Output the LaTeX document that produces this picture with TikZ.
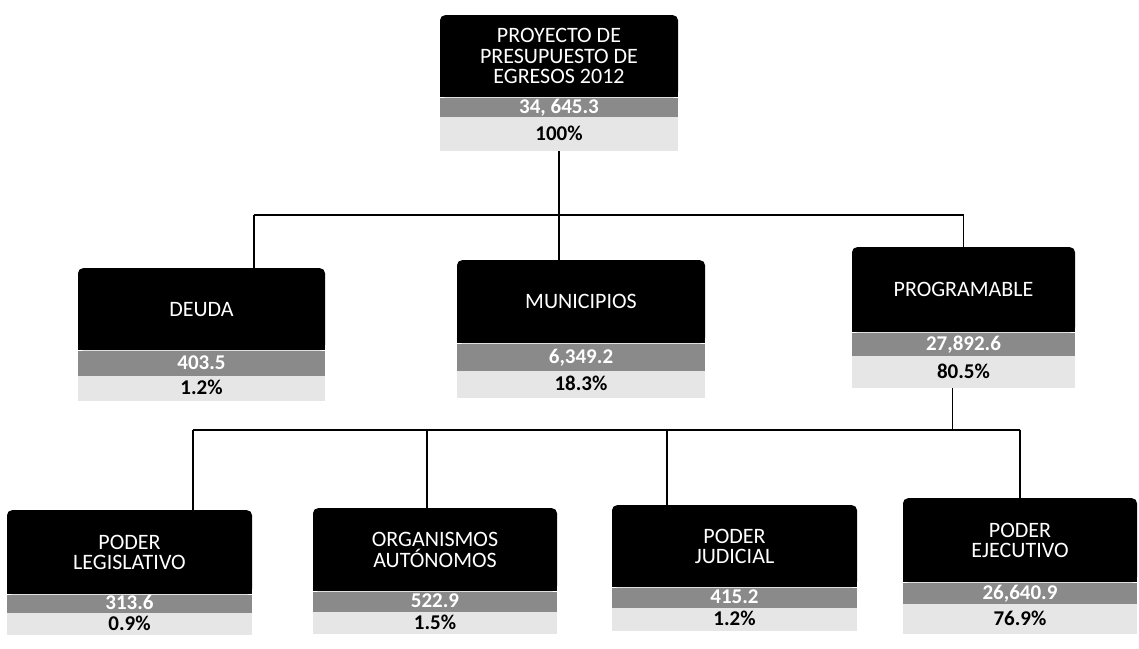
\documentclass[tikz,border=0pt]{standalone}
\usepackage{fontspec}
\setmainfont{Carlito}
\definecolor{bandgray}{HTML}{8A8A8A}
\definecolor{bandlight}{HTML}{E6E6E6}
\tikzset{
  titlebox/.style={fill=black, text=white, rounded corners=5pt, inner sep=0pt, align=center, anchor=north,
    font=\fontsize{22}{20.5}\selectfont},
  numband/.style={fill=bandgray, text=white, inner sep=0pt, anchor=north, text height=13.5pt, text depth=1.5pt,
    font=\bfseries\fontsize{21}{21}\selectfont},
  pctband/.style={fill=bandlight, text=black, inner sep=0pt, anchor=north, text height=13.5pt, text depth=1.5pt,
    font=\bfseries\fontsize{21}{21}\selectfont},
  link/.style={draw=black, line width=1.3pt},
}
\newcommand\squarebottom[1]{\fill[black] ([yshift=6pt]#1.south west) rectangle (#1.south east);}
\begin{document}
\begin{tikzpicture}[x=1pt, y=-1pt]
\useasboundingbox (0,0) rectangle (1139,648);
% top
\node[titlebox, minimum width=238pt, minimum height=82pt] (top) at (559,15) {PROYECTO DE\\PRESUPUESTO DE\\EGRESOS 2012};
\squarebottom{top}
\node[numband, minimum width=238pt, minimum height=19pt] (topN) at (top.south) {34, 645.3};
\node[pctband, minimum width=238pt, minimum height=34pt] (topP) at (topN.south) {100\%};
% deuda
\node[titlebox, minimum width=247pt, minimum height=82pt] (deuda) at (201.5,268) {DEUDA};
\squarebottom{deuda}
\node[numband, minimum width=247pt, minimum height=25pt] (deudaN) at (deuda.south) {403.5};
\node[pctband, minimum width=247pt, minimum height=25pt] (deudaP) at (deudaN.south) {1.2\%};
% municipios
\node[titlebox, minimum width=248pt, minimum height=83pt] (mun) at (581,260) {MUNICIPIOS};
\squarebottom{mun}
\node[numband, minimum width=248pt, minimum height=27pt] (munN) at (mun.south) {6,349.2};
\node[pctband, minimum width=248pt, minimum height=27pt] (munP) at (munN.south) {18.3\%};
% programable
\node[titlebox, minimum width=223pt, minimum height=85pt] (prog) at (963.5,247) {PROGRAMABLE};
\squarebottom{prog}
\node[numband, minimum width=223pt, minimum height=23pt] (progN) at (prog.south) {27,892.6};
\node[pctband, minimum width=223pt, minimum height=32pt] (progP) at (progN.south) {80.5\%};
% legislativo
\node[titlebox, minimum width=245pt, minimum height=84pt] (leg) at (129.5,510) {PODER\\LEGISLATIVO};
\squarebottom{leg}
\node[numband, minimum width=245pt, minimum height=18pt] (legN) at (leg.south) {313.6};
\node[pctband, minimum width=245pt, minimum height=22pt] (legP) at (legN.south) {0.9\%};
% organismos
\node[titlebox, minimum width=244pt, minimum height=83pt] (org) at (435,508) {ORGANISMOS\\AUTÓNOMOS};
\squarebottom{org}
\node[numband, minimum width=244pt, minimum height=20pt] (orgN) at (org.south) {522.9};
\node[pctband, minimum width=244pt, minimum height=22pt] (orgP) at (orgN.south) {1.5\%};
% judicial
\node[titlebox, minimum width=245pt, minimum height=82pt] (jud) at (734.5,505) {PODER\\JUDICIAL};
\squarebottom{jud}
\node[numband, minimum width=245pt, minimum height=20pt] (judN) at (jud.south) {415.2};
\node[pctband, minimum width=245pt, minimum height=23pt] (judP) at (judN.south) {1.2\%};
% ejecutivo
\node[titlebox, minimum width=234pt, minimum height=84pt] (eje) at (1020,498) {PODER\\EJECUTIVO};
\squarebottom{eje}
\node[numband, minimum width=234pt, minimum height=21pt] (ejeN) at (eje.south) {26,640.9};
\node[pctband, minimum width=234pt, minimum height=30pt] (ejeP) at (ejeN.south) {76.9\%};
% connectors level 1
\coordinate (busA) at (254,215);
\coordinate (busB) at (963.5,215);
\draw[link] (topP.south) -- (topP.south |- mun.north);
\draw[link] (busA) -- (busB);
\draw[link] (busA) -- (busA |- deuda.north);
\draw[link] (busB) -- (prog.north);
% connectors level 2
\coordinate (busC) at (193,430);
\coordinate (busE) at (427,430);
\coordinate (busF) at (667,430);
\coordinate (busD) at (1020,430);
\coordinate (progOut) at ([xshift=-11pt]progP.south);
\draw[link] (progOut) -- (progOut |- busD);
\draw[link] (busC) -- (busD);
\draw[link] (busC) -- (busC |- leg.north);
\draw[link] (busE) -- (busE |- org.north);
\draw[link] (busF) -- (busF |- jud.north);
\draw[link] (busD) -- (eje.north);
\end{tikzpicture}
\end{document}
